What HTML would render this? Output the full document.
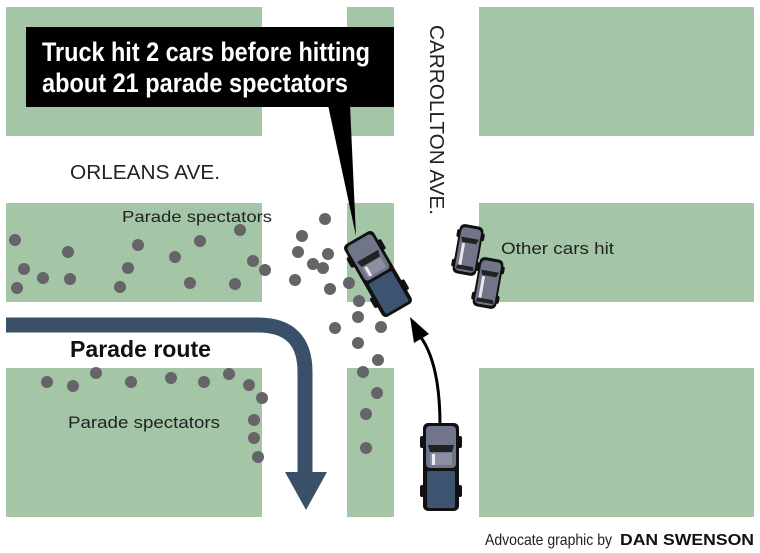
<!DOCTYPE html>
<html><head><meta charset="utf-8"><style>
html,body{margin:0;padding:0;background:#fff;}
svg{display:block;}
text{font-family:"Liberation Sans Narrow","Liberation Sans",sans-serif;}
</style></head><body>
<svg width="760" height="553" viewBox="0 0 760 553" xmlns="http://www.w3.org/2000/svg">
<defs>
<g id="truck">
  <rect x="-21" y="-31" width="42" height="12" rx="2" fill="#111"/>
  <rect x="-21" y="18" width="42" height="12" rx="2" fill="#111"/>
  <rect x="-18" y="-44" width="36" height="88" rx="5" fill="#111"/>
  <rect x="-15" y="-41" width="30" height="42" rx="4" fill="#70758a"/>
  <path d="M-13,-22 L13,-22 L11,-15 L-11,-15 Z" fill="#222"/>
  <rect x="-11" y="-14" width="22" height="12" fill="#8a8fa2"/>
  <rect x="-9" y="-13" width="3" height="11" fill="#eee"/>
  <rect x="-14" y="4" width="28" height="37" rx="2" fill="#3d5470"/>
</g>
<g id="car">
  <rect x="-14" y="-19" width="28" height="8" rx="2" fill="#111"/>
  <rect x="-14" y="11" width="28" height="8" rx="2" fill="#111"/>
  <rect x="-12" y="-25" width="24" height="50" rx="5" fill="#111"/>
  <rect x="-10" y="-22" width="20" height="44" rx="4" fill="#70758a"/>
  <path d="M-9,-12 L9,-12 L7,-7 L-7,-7 Z" fill="#222"/>
  <rect x="-7" y="-6" width="3" height="22" fill="#e8e8e8"/>
  <path d="M-8,16 L8,16 L9,20 L-9,20 Z" fill="#222"/>
</g>
</defs>
<g fill="#a4c5a6">
  <rect x="6" y="7" width="256" height="129"/>
  <rect x="347" y="7" width="47" height="129"/>
  <rect x="479" y="7" width="275" height="129"/>
  <rect x="6" y="203" width="256" height="99"/>
  <rect x="347" y="203" width="47" height="99"/>
  <rect x="479" y="203" width="275" height="99"/>
  <rect x="6" y="368" width="256" height="149"/>
  <rect x="347" y="368" width="47" height="149"/>
  <rect x="479" y="368" width="275" height="149"/>
</g>
<!-- parade route -->
<path d="M6,325 L258,325 Q305,325 305,372 L305,474" fill="none" stroke="#3a4f68" stroke-width="15"/>
<path d="M285,472 L327,472 L306,510 Z" fill="#3a4f68"/>
<!-- dots -->
<g fill="#646469">
<circle cx="15" cy="240" r="6"/><circle cx="24" cy="269" r="6"/><circle cx="17" cy="288" r="6"/><circle cx="43" cy="278" r="6"/><circle cx="68" cy="252" r="6"/><circle cx="70" cy="279" r="6"/><circle cx="128" cy="268" r="6"/><circle cx="120" cy="287" r="6"/><circle cx="138" cy="245" r="6"/><circle cx="175" cy="257" r="6"/><circle cx="200" cy="241" r="6"/><circle cx="190" cy="283" r="6"/><circle cx="240" cy="230" r="6"/><circle cx="253" cy="261" r="6"/><circle cx="265" cy="270" r="6"/><circle cx="235" cy="284" r="6"/>
<circle cx="325" cy="219" r="6"/><circle cx="302" cy="236" r="6"/><circle cx="298" cy="252" r="6"/><circle cx="313" cy="264" r="6"/><circle cx="323" cy="268" r="6"/><circle cx="328" cy="254" r="6"/><circle cx="295" cy="280" r="6"/><circle cx="330" cy="289" r="6"/><circle cx="349" cy="283" r="6"/>
<circle cx="359" cy="301" r="6"/><circle cx="358" cy="317" r="6"/><circle cx="335" cy="328" r="6"/><circle cx="381" cy="327" r="6"/><circle cx="358" cy="343" r="6"/><circle cx="378" cy="360" r="6"/><circle cx="363" cy="372" r="6"/><circle cx="377" cy="393" r="6"/><circle cx="366" cy="414" r="6"/><circle cx="366" cy="448" r="6"/>
<circle cx="47" cy="382" r="6"/><circle cx="73" cy="386" r="6"/><circle cx="96" cy="373" r="6"/><circle cx="131" cy="382" r="6"/><circle cx="171" cy="378" r="6"/><circle cx="204" cy="382" r="6"/><circle cx="229" cy="374" r="6"/><circle cx="249" cy="385" r="6"/><circle cx="262" cy="398" r="6"/><circle cx="254" cy="420" r="6"/><circle cx="254" cy="438" r="6"/><circle cx="258" cy="457" r="6"/>
</g>
<!-- callout -->
<path d="M328,105 L350,105 L356,236 Z" fill="#000"/>
<rect x="26" y="27" width="368" height="80" fill="#000"/>
<text x="42" y="61" font-size="27" font-weight="bold" fill="#fff" textLength="328" lengthAdjust="spacingAndGlyphs">Truck hit 2 cars before hitting</text>
<text x="42" y="92" font-size="27" font-weight="bold" fill="#fff" textLength="306" lengthAdjust="spacingAndGlyphs">about 21 parade spectators</text>
<!-- labels -->
<text x="70" y="179" font-size="20" fill="#222" textLength="150" lengthAdjust="spacingAndGlyphs">ORLEANS AVE.</text>
<text transform="translate(430,25) rotate(90)" font-size="20" fill="#222" textLength="190" lengthAdjust="spacingAndGlyphs">CARROLLTON AVE.</text>
<text x="122" y="222" font-size="16" fill="#222" textLength="150" lengthAdjust="spacingAndGlyphs">Parade spectators</text>
<text x="68" y="428" font-size="17" fill="#222" textLength="152" lengthAdjust="spacingAndGlyphs">Parade spectators</text>
<text x="501" y="254" font-size="17" fill="#222" textLength="113" lengthAdjust="spacingAndGlyphs">Other cars hit</text>
<text x="70" y="357" font-size="23" font-weight="bold" fill="#111" textLength="141" lengthAdjust="spacingAndGlyphs">Parade route</text>
<text x="485" y="545" font-size="16" fill="#222" textLength="127" lengthAdjust="spacingAndGlyphs">Advocate graphic by</text>
<text x="620" y="545" font-size="16" font-weight="bold" fill="#111" textLength="134" lengthAdjust="spacingAndGlyphs">DAN SWENSON</text>
<!-- black arrow -->
<path d="M440,425 C440,385 434,355 420,336" fill="none" stroke="#000" stroke-width="3"/>
<path d="M410,317 L429,334 L414,343 Z" fill="#000"/>
<!-- vehicles -->
<use href="#truck" transform="translate(378,274) rotate(-30) scale(0.95)"/>
<use href="#truck" transform="translate(441,467)"/>
<use href="#car" transform="translate(468,250) rotate(10)"/>
<use href="#car" transform="translate(488,283) rotate(10)"/>
</svg>
</body></html>
